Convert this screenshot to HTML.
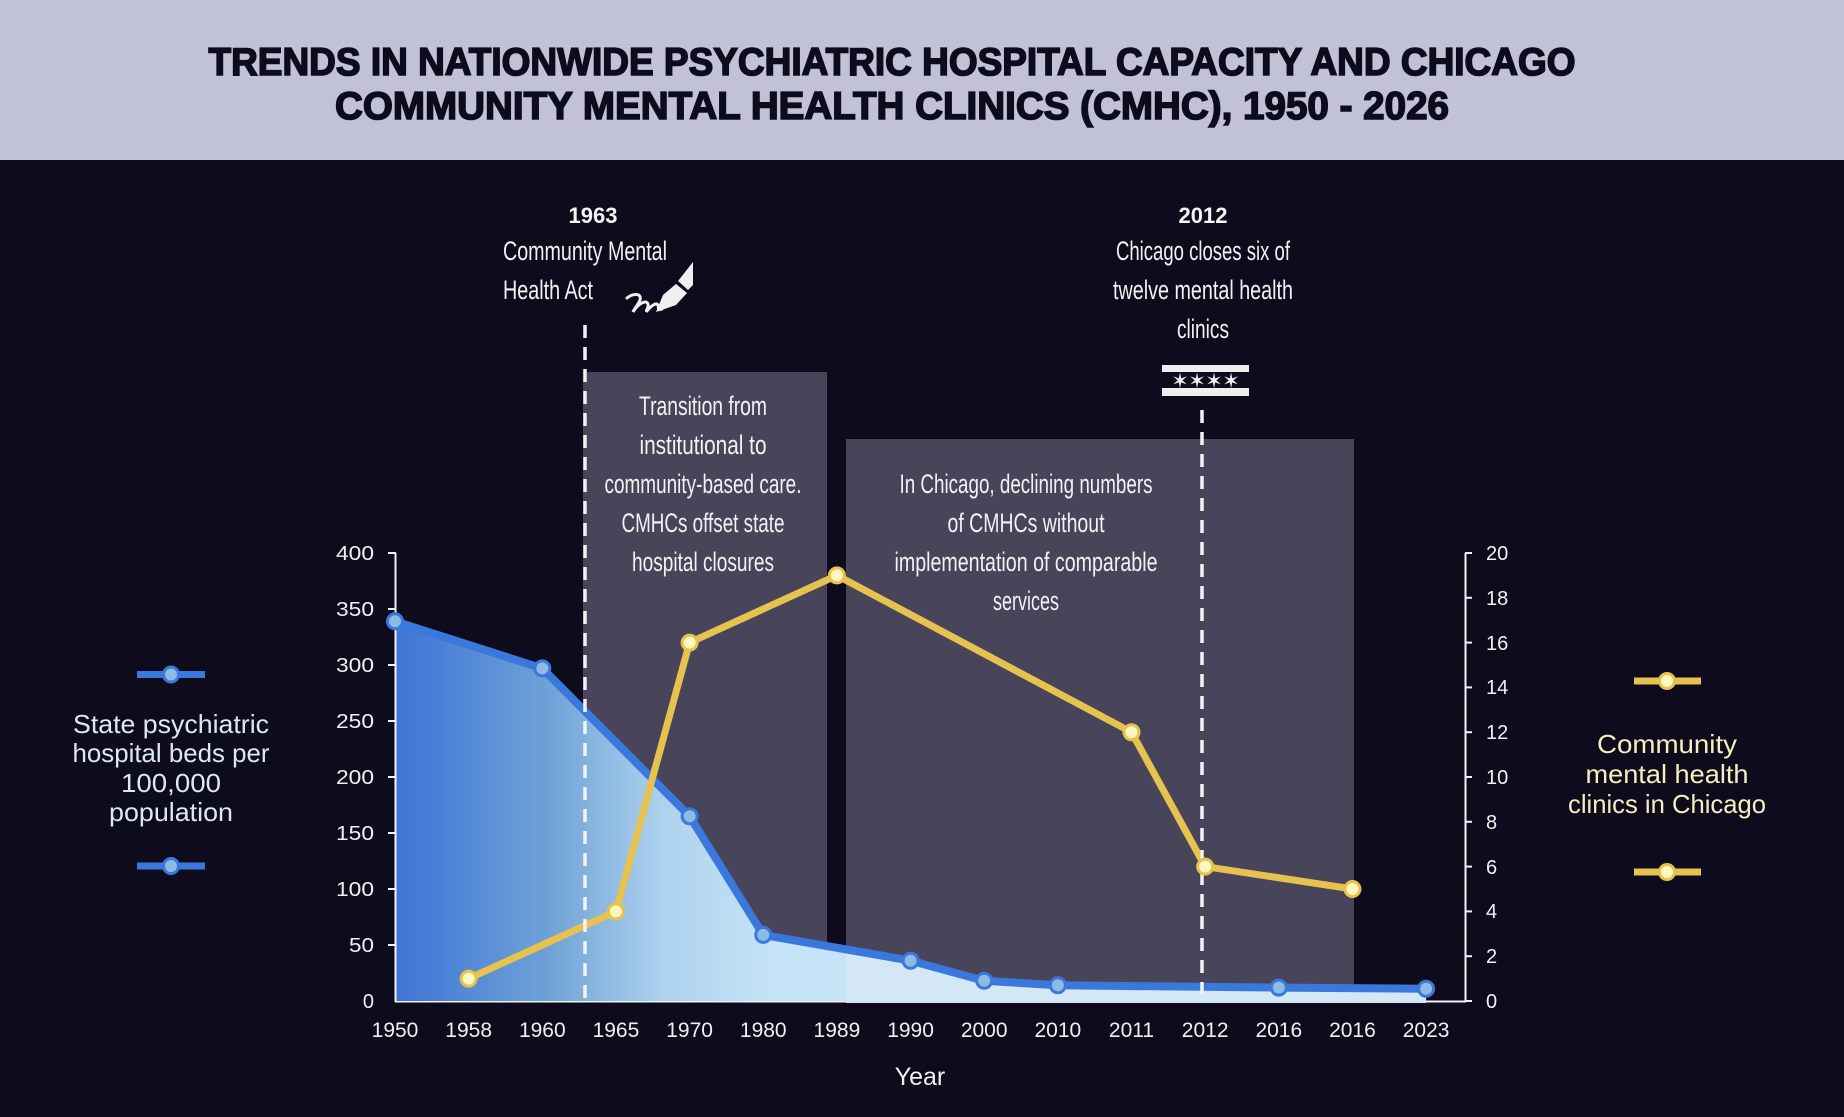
<!DOCTYPE html>
<html><head><meta charset="utf-8">
<style>
html,body{margin:0;padding:0;background:#0e0b1c;}
svg{display:block;}
text{font-family:"Liberation Sans",sans-serif;}
</style></head>
<body>
<svg width="1844" height="1117" viewBox="0 0 1844 1117" xmlns="http://www.w3.org/2000/svg">
<defs>
<linearGradient id="ag" gradientUnits="userSpaceOnUse" x1="395" y1="0" x2="780" y2="0">
<stop offset="0" stop-color="#3d74d6"/>
<stop offset="0.4" stop-color="#6fa2d6"/>
<stop offset="0.7" stop-color="#aed2ee"/>
<stop offset="1" stop-color="#c6e4f7"/>
</linearGradient>
</defs>
<rect x="0" y="0" width="1844" height="1117" fill="#0e0b1c"/>
<!-- header -->
<rect x="0" y="0" width="1844" height="160" fill="#c1c2d7"/>
<text x="892" y="75" text-anchor="middle" font-size="39" font-weight="bold" fill="#0e0b1c" stroke="#0e0b1c" stroke-width="1.6" textLength="1367" lengthAdjust="spacingAndGlyphs">TRENDS IN NATIONWIDE PSYCHIATRIC HOSPITAL CAPACITY AND CHICAGO</text>
<text x="892" y="119" text-anchor="middle" font-size="39" font-weight="bold" fill="#0e0b1c" stroke="#0e0b1c" stroke-width="1.6" textLength="1114" lengthAdjust="spacingAndGlyphs">COMMUNITY MENTAL HEALTH CLINICS (CMHC), 1950 - 2026</text>

<!-- boxes -->
<rect x="583" y="372" width="244" height="630" fill="#48445a"/>
<rect x="846" y="439" width="508" height="564" fill="#48445a"/>

<!-- baseline -->
<line x1="395" y1="1001.5" x2="1466" y2="1001.5" stroke="#f2f2f2" stroke-width="2"/>

<!-- area -->
<path d="M395,1001 L395,621.3 L542.3,668.4 L689.6,816.2 L763.25,934.9 L846,949.4 L846,1001 Z" fill="url(#ag)"/>
<path d="M846,1003 L846,949.4 L910.55,960.7 L984.2,980.8 L1057.85,985.3 L1278.8,987.6 L1426.1,988.7 L1426.1,1003 Z" fill="#d4e7f5"/>

<!-- axes -->
<g stroke="#f2f2f2" stroke-width="2" fill="none">
<line x1="395.5" y1="553" x2="395.5" y2="1002"/>
<line x1="388" y1="553" x2="396" y2="553"/>
<line x1="388" y1="609" x2="396" y2="609"/>
<line x1="388" y1="665" x2="396" y2="665"/>
<line x1="388" y1="721" x2="396" y2="721"/>
<line x1="388" y1="777" x2="396" y2="777"/>
<line x1="388" y1="833" x2="396" y2="833"/>
<line x1="388" y1="889" x2="396" y2="889"/>
<line x1="388" y1="945" x2="396" y2="945"/>
<line x1="1465.5" y1="553" x2="1465.5" y2="1002"/>
<line x1="1465" y1="553" x2="1472" y2="553"/>
<line x1="1465" y1="597.8" x2="1472" y2="597.8"/>
<line x1="1465" y1="642.6" x2="1472" y2="642.6"/>
<line x1="1465" y1="687.4" x2="1472" y2="687.4"/>
<line x1="1465" y1="732.2" x2="1472" y2="732.2"/>
<line x1="1465" y1="777" x2="1472" y2="777"/>
<line x1="1465" y1="821.8" x2="1472" y2="821.8"/>
<line x1="1465" y1="866.6" x2="1472" y2="866.6"/>
<line x1="1465" y1="911.4" x2="1472" y2="911.4"/>
<line x1="1465" y1="956.2" x2="1472" y2="956.2"/>
<line x1="1465" y1="1001" x2="1472" y2="1001"/>
</g>

<!-- left tick labels -->
<g font-size="20" fill="#f0f0f0" text-anchor="end">
<text x="374" y="560" textLength="38" lengthAdjust="spacingAndGlyphs">400</text>
<text x="374" y="616" textLength="38" lengthAdjust="spacingAndGlyphs">350</text>
<text x="374" y="672" textLength="38" lengthAdjust="spacingAndGlyphs">300</text>
<text x="374" y="728" textLength="38" lengthAdjust="spacingAndGlyphs">250</text>
<text x="374" y="784" textLength="38" lengthAdjust="spacingAndGlyphs">200</text>
<text x="374" y="840" textLength="38" lengthAdjust="spacingAndGlyphs">150</text>
<text x="374" y="896" textLength="38" lengthAdjust="spacingAndGlyphs">100</text>
<text x="374" y="952" textLength="25" lengthAdjust="spacingAndGlyphs">50</text>
<text x="374" y="1008">0</text>
</g>
<!-- right tick labels -->
<g font-size="20" fill="#f0f0f0" text-anchor="start">
<text x="1486" y="560">20</text>
<text x="1486" y="605">18</text>
<text x="1486" y="650">16</text>
<text x="1486" y="694">14</text>
<text x="1486" y="739">12</text>
<text x="1486" y="784">10</text>
<text x="1486" y="829">8</text>
<text x="1486" y="874">6</text>
<text x="1486" y="918">4</text>
<text x="1486" y="963">2</text>
<text x="1486" y="1008">0</text>
</g>

<!-- x labels -->
<g font-size="21" fill="#f0f0f0" text-anchor="middle">
<text x="395" y="1037">1950</text>
<text x="468.65" y="1037">1958</text>
<text x="542.3" y="1037">1960</text>
<text x="615.95" y="1037">1965</text>
<text x="689.6" y="1037">1970</text>
<text x="763.25" y="1037">1980</text>
<text x="836.9" y="1037">1989</text>
<text x="910.55" y="1037">1990</text>
<text x="984.2" y="1037">2000</text>
<text x="1057.85" y="1037">2010</text>
<text x="1131.5" y="1037">2011</text>
<text x="1205.15" y="1037">2012</text>
<text x="1278.8" y="1037">2016</text>
<text x="1352.45" y="1037">2016</text>
<text x="1426.1" y="1037">2023</text>
</g>
<text x="920" y="1085" text-anchor="middle" font-size="25" fill="#f0f0f0">Year</text>

<!-- lines -->
<polyline points="395,621.3 542.3,668.4 689.6,816.2 763.25,934.9 910.55,960.7 984.2,980.8 1057.85,985.3 1278.8,987.6 1426.1,988.7" fill="none" stroke="#3b78dd" stroke-width="8" stroke-linejoin="round"/>
<polyline points="468.65,978.6 615.95,911.4 689.6,642.6 836.9,575.4 1131.5,732.2 1205.15,866.6 1352.45,889" fill="none" stroke="#e6c24e" stroke-width="7" stroke-linejoin="round"/>

<!-- dashed lines -->
<line x1="585" y1="325" x2="585" y2="1003" stroke="#f2f2f2" stroke-width="3.5" stroke-dasharray="13 9"/>
<line x1="1202" y1="410" x2="1202" y2="1003" stroke="#f2f2f2" stroke-width="3.5" stroke-dasharray="13 9"/>

<!-- markers -->
<g fill="#8dbbe2" stroke="#3b78dd" stroke-width="3">
<circle cx="395" cy="621.3" r="7.5"/>
<circle cx="542.3" cy="668.4" r="7.5"/>
<circle cx="689.6" cy="816.2" r="7.5"/>
<circle cx="763.25" cy="934.9" r="7.5"/>
<circle cx="910.55" cy="960.7" r="7.5"/>
<circle cx="984.2" cy="980.8" r="7.5"/>
<circle cx="1057.85" cy="985.3" r="7.5"/>
<circle cx="1278.8" cy="987.6" r="7.5"/>
<circle cx="1426.1" cy="988.7" r="7.5"/>
</g>
<g fill="#fff7c0" stroke="#e6c24e" stroke-width="3">
<circle cx="468.65" cy="978.6" r="7.5"/>
<circle cx="615.95" cy="911.4" r="7.5"/>
<circle cx="689.6" cy="642.6" r="7.5"/>
<circle cx="836.9" cy="575.4" r="7.5"/>
<circle cx="1131.5" cy="732.2" r="7.5"/>
<circle cx="1205.15" cy="866.6" r="7.5"/>
<circle cx="1352.45" cy="889" r="7.5"/>
</g>

<!-- box texts -->
<g font-size="27" fill="#f2f2f2" text-anchor="middle">
<text x="703" y="415" textLength="128" lengthAdjust="spacingAndGlyphs">Transition from</text>
<text x="703" y="454" textLength="127" lengthAdjust="spacingAndGlyphs">institutional to</text>
<text x="703" y="493" textLength="197" lengthAdjust="spacingAndGlyphs">community-based care.</text>
<text x="703" y="532" textLength="163" lengthAdjust="spacingAndGlyphs">CMHCs offset state</text>
<text x="703" y="571" textLength="142" lengthAdjust="spacingAndGlyphs">hospital closures</text>
<text x="1026" y="493" textLength="253" lengthAdjust="spacingAndGlyphs">In Chicago, declining numbers</text>
<text x="1026" y="532" textLength="157" lengthAdjust="spacingAndGlyphs">of CMHCs without</text>
<text x="1026" y="571" textLength="263" lengthAdjust="spacingAndGlyphs">implementation of comparable</text>
<text x="1026" y="610" textLength="66" lengthAdjust="spacingAndGlyphs">services</text>
</g>

<!-- annotation 1963 -->
<text x="593" y="223" text-anchor="middle" font-size="22" font-weight="bold" fill="#f5f5f5">1963</text>
<text x="503" y="260" font-size="27" fill="#f2f2f2" textLength="164" lengthAdjust="spacingAndGlyphs">Community Mental</text>
<text x="503" y="299" font-size="27" fill="#f2f2f2" textLength="90" lengthAdjust="spacingAndGlyphs">Health Act</text>
<!-- pen icon -->
<g fill="#eef0f0">
<polygon points="678,281 693,262 693,285 688,290"/>
<polygon points="663,295 676,284 687,293 676,305 656,312"/>
</g>
<path d="M627,298 C633,293 642,293 640,300 C638,305 634,309 633,312 C638,304 646,299 648,304 C649,308 645,311 647,311 C651,306 656,302 658,305 C659,308 657,311 662,309" fill="none" stroke="#eef0f0" stroke-width="3" stroke-linecap="round"/>

<!-- annotation 2012 -->
<text x="1203" y="223" text-anchor="middle" font-size="22" font-weight="bold" fill="#f5f5f5">2012</text>
<g font-size="27" fill="#f2f2f2" text-anchor="middle">
<text x="1203" y="260" textLength="174" lengthAdjust="spacingAndGlyphs">Chicago closes six of</text>
<text x="1203" y="299" textLength="180" lengthAdjust="spacingAndGlyphs">twelve mental health</text>
<text x="1203" y="338" textLength="52" lengthAdjust="spacingAndGlyphs">clinics</text>
</g>
<!-- chicago flag -->
<rect x="1162" y="365" width="87" height="7" fill="#eef0f0"/>
<rect x="1162" y="388" width="87" height="8" fill="#eef0f0"/>
<g font-size="21" fill="#eef0f0" text-anchor="middle" font-family="DejaVu Sans">
<text x="1180" y="388">✶</text>
<text x="1197" y="388">✶</text>
<text x="1214" y="388">✶</text>
<text x="1231" y="388">✶</text>
</g>

<!-- left legend -->
<line x1="137" y1="674.5" x2="205" y2="674.5" stroke="#3b78dd" stroke-width="7"/>
<circle cx="171" cy="674.5" r="7.5" fill="#8dbbe2" stroke="#3b78dd" stroke-width="3"/>
<line x1="137" y1="866" x2="205" y2="866" stroke="#3b78dd" stroke-width="7"/>
<circle cx="171" cy="866" r="7.5" fill="#8dbbe2" stroke="#3b78dd" stroke-width="3"/>
<g font-size="26" fill="#dce8f7" text-anchor="middle">
<text x="171" y="733" textLength="196" lengthAdjust="spacingAndGlyphs">State psychiatric</text>
<text x="171" y="762" textLength="197" lengthAdjust="spacingAndGlyphs">hospital beds per</text>
<text x="171" y="792" textLength="100" lengthAdjust="spacingAndGlyphs">100,000</text>
<text x="171" y="821" textLength="124" lengthAdjust="spacingAndGlyphs">population</text>
</g>

<!-- right legend -->
<line x1="1634" y1="681" x2="1701" y2="681" stroke="#e6c24e" stroke-width="7"/>
<circle cx="1667" cy="681" r="7.5" fill="#fff7c0" stroke="#e6c24e" stroke-width="3"/>
<line x1="1634" y1="872" x2="1701" y2="872" stroke="#e6c24e" stroke-width="7"/>
<circle cx="1667" cy="872" r="7.5" fill="#fff7c0" stroke="#e6c24e" stroke-width="3"/>
<g font-size="26" fill="#f5efbf" text-anchor="middle">
<text x="1667" y="753" textLength="140" lengthAdjust="spacingAndGlyphs">Community</text>
<text x="1667" y="783" textLength="163" lengthAdjust="spacingAndGlyphs">mental health</text>
<text x="1667" y="813" textLength="198" lengthAdjust="spacingAndGlyphs">clinics in Chicago</text>
</g>
</svg>
</body></html>
